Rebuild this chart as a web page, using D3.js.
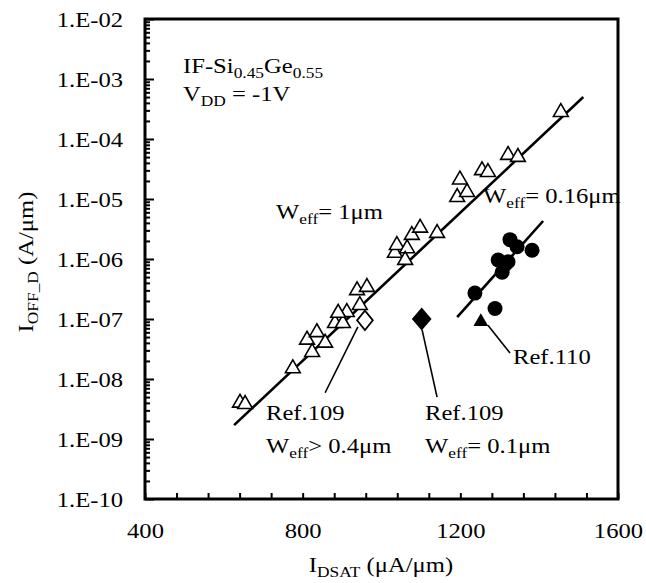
<!DOCTYPE html>
<html>
<head>
<meta charset="utf-8">
<script src="https://cdn.jsdelivr.net/npm/d3@7"></script>
<style>
  body { margin: 0; background: #fff; }
  text { font-family: "Liberation Serif", "Times New Roman", serif; fill: #000; }
</style>
</head>
<body>
<svg id="chart" width="646" height="583"></svg>
<script>
// ---- data: I_DSAT (uA/um) vs I_OFF_D (A/um) ----
const xMajorTicks = [400, 800, 1200, 1600];
const yExponents = [-10, -9, -8, -7, -6, -5, -4, -3, -2];

// W_eff = 1 um devices (open triangles)
const wideX = [641, 654, 775, 811, 836, 857, 824, 882, 902, 912, 890, 938, 963, 945,
               1034, 1039, 1065, 1060, 1077, 1098, 1141, 1199, 1192, 1217, 1255, 1270,
               1321, 1346, 1455];
const wideY = [4.0e-9, 3.8e-9, 1.5e-8, 4.5e-8, 6.0e-8, 4.0e-8, 2.8e-8, 8.5e-8, 8.5e-8, 1.3e-7, 1.26e-7, 3.0e-7, 3.4e-7, 1.7e-7,
               1.26e-6, 1.7e-6, 1.5e-6, 9.6e-7, 2.5e-6, 3.3e-6, 2.7e-6, 2.1e-5, 1.07e-5, 1.3e-5, 3.0e-5, 2.8e-5,
               5.4e-5, 5.0e-5, 2.8e-4];

// W_eff = 0.16 um devices (filled circles)
const narrowX = [1326, 1382, 1344, 1296, 1321, 1306, 1313, 1237, 1288];
const narrowY = [2.1e-6, 1.4e-6, 1.6e-6, 9.6e-7, 9.0e-7, 6.0e-7, 8.0e-7, 2.7e-7, 1.5e-7];

// literature points
const ref110 = [[1252, 9.0e-8]];          // filled triangle
const ref109Narrow = [[1102, 1.0e-7]];    // filled diamond, W_eff = 0.1 um
const ref109Wide = [[958, 9.5e-8]];       // open diamond, W_eff > 0.4 um

// trend lines
const fitWide = [[626, 1.7e-9], [1512, 5.0e-4]];
const fitNarrow = [[1192, 1.07e-7], [1410, 4.3e-6]];

// leader lines from marks to their notes
const leaderWide = [[940, 7.4e-8], [857, 5.9e-9]];
const leaderNarrow = [[1103, 6.6e-8], [1141, 5.0e-9]];
const leader110 = [[1270, 7.9e-8], [1326, 2.7e-8]];

// ---- layout ----
const svg = d3.select("#chart");
const L = 145, R = 618, T = 19, B = 499;
const SX = 1.12;      // slight horizontal widening of the serif glyphs
const FS = 22;
const SUB = 15.5;

const x = d3.scaleLinear().domain([400, 1600]).range([L, R]);
const y = d3.scaleLog().domain([1e-10, 1e-2]).range([B, T]);

// ---- axes ----
const fmtExp = d => {
  const e = Math.round(Math.log10(d));
  const a = Math.abs(e);
  return "1.E" + (e < 0 ? "-" : "+") + (a < 10 ? "0" + a : a);
};

const yMajors = yExponents.map(e => Math.pow(10, e));
const yMinors = [];
yExponents.slice(0, -1).forEach(e => {
  for (let k = 2; k <= 9; k++) yMinors.push(k * Math.pow(10, e));
});

const yMinorAxis = svg.append("g").attr("transform", `translate(${L},0)`)
  .call(d3.axisLeft(y).tickValues(yMinors).tickSize(-5).tickFormat(""));
const yAxis = svg.append("g").attr("transform", `translate(${L},0)`)
  .call(d3.axisLeft(y).tickValues(yMajors).tickSize(-9).tickPadding(22).tickFormat(fmtExp));
yAxis.selectAll("text")
  .attr("font-size", FS)
  .attr("transform", `scale(${SX},1)`)
  .attr("x", -22 / SX);

const xMinors = d3.range(400, 1601, 80);
const xAxis = svg.append("g").attr("transform", `translate(0,${B})`)
  .call(d3.axisBottom(x).tickValues(xMinors).tickSize(-6).tickPadding(23)
    .tickFormat(d => xMajorTicks.includes(d) ? d : ""));
xAxis.selectAll("text")
  .attr("font-size", FS)
  .attr("transform", `scale(${SX},1)`);

[yMinorAxis, yAxis, xAxis].forEach(g => {
  g.select(".domain").remove();
  g.selectAll("line").attr("stroke", "#000").attr("stroke-width", 2);
});

// frame
svg.append("rect")
  .attr("x", L).attr("y", T).attr("width", R - L).attr("height", B - T)
  .attr("fill", "none").attr("stroke", "#000").attr("stroke-width", 3);

// ---- text helper: parts = [[string, isSub], ...] ----
function note(px, py, parts, opts = {}) {
  const g = svg.append("g").attr("transform",
    `translate(${px},${py}) rotate(${opts.rotate || 0}) scale(${SX},1)`);
  const t = g.append("text").attr("font-size", FS)
    .attr("text-anchor", opts.anchor || "start");
  let low = false;
  parts.forEach(([s, sub]) => {
    const ts = t.append("tspan").text(s);
    if (sub) {
      ts.attr("font-size", SUB);
      if (!low) { ts.attr("dy", 4.5); low = true; }
    } else if (low) {
      ts.attr("dy", -4.5); low = false;
    }
  });
  return g;
}

// ---- trend lines ----
const line = d3.line().x(d => x(d[0])).y(d => y(d[1]));
[fitWide, fitNarrow].forEach(seg => {
  svg.append("path").attr("d", line(seg))
    .attr("fill", "none").attr("stroke", "#000").attr("stroke-width", 2.6);
});

// ---- leader lines ----
[leaderWide, leaderNarrow, leader110].forEach(seg => {
  svg.append("path").attr("d", line(seg))
    .attr("fill", "none").attr("stroke", "#000").attr("stroke-width", 1.6);
});

// ---- marks ----
const wide = wideX.map((v, i) => [v, wideY[i]]);
const narrow = narrowX.map((v, i) => [v, narrowY[i]]);

const triSym = d3.symbol().type(d3.symbolTriangle).size(95);
svg.append("g").selectAll("path").data(wide).join("path")
  .attr("d", triSym)
  .attr("transform", d => `translate(${x(d[0])},${y(d[1])})`)
  .attr("fill", "#fff").attr("stroke", "#000").attr("stroke-width", 1.6);

svg.append("g").selectAll("circle").data(narrow).join("circle")
  .attr("cx", d => x(d[0])).attr("cy", d => y(d[1])).attr("r", 7.5)
  .attr("fill", "#000");

svg.append("g").selectAll("path").data(ref110).join("path")
  .attr("d", d3.symbol().type(d3.symbolTriangle).size(95))
  .attr("transform", d => `translate(${x(d[0])},${y(d[1])})`)
  .attr("fill", "#000");

const diamond = d3.symbol().type(d3.symbolDiamond);
svg.append("g").selectAll("path").data(ref109Narrow).join("path")
  .attr("d", diamond.size(150)())
  .attr("transform", d => `translate(${x(d[0])},${y(d[1])}) scale(1.5,1)`)
  .attr("fill", "#000");
svg.append("g").selectAll("path").data(ref109Wide).join("path")
  .attr("d", diamond.size(110)())
  .attr("transform", d => `translate(${x(d[0])},${y(d[1])}) scale(1.4,1)`)
  .attr("fill", "#fff").attr("stroke", "#000").attr("stroke-width", 1.4);

// ---- notes ----
note(183, 73, [["IF-Si"], ["0.45", true], ["Ge"], ["0.55", true]]);
note(183, 101, [["V"], ["DD", true], [" = -1V"]]);
note(276, 219, [["W"], ["eff", true], ["= 1μm"]]);
note(483, 203, [["W"], ["eff", true], ["= 0.16μm"]]);
note(513, 364, [["Ref.110"]]);
note(266, 420, [["Ref.109"]]);
note(266, 453, [["W"], ["eff", true], ["> 0.4μm"]]);
note(425, 420, [["Ref.109"]]);
note(425, 453, [["W"], ["eff", true], ["= 0.1μm"]]);

// axis titles
note(381, 572, [["I"], ["DSAT", true], [" (μA/μm)"]], { anchor: "middle" });
note(33, 262, [["I"], ["OFF_D", true], [" (A/μm)"]], { anchor: "middle", rotate: -90 });
</script>
</body>
</html>
